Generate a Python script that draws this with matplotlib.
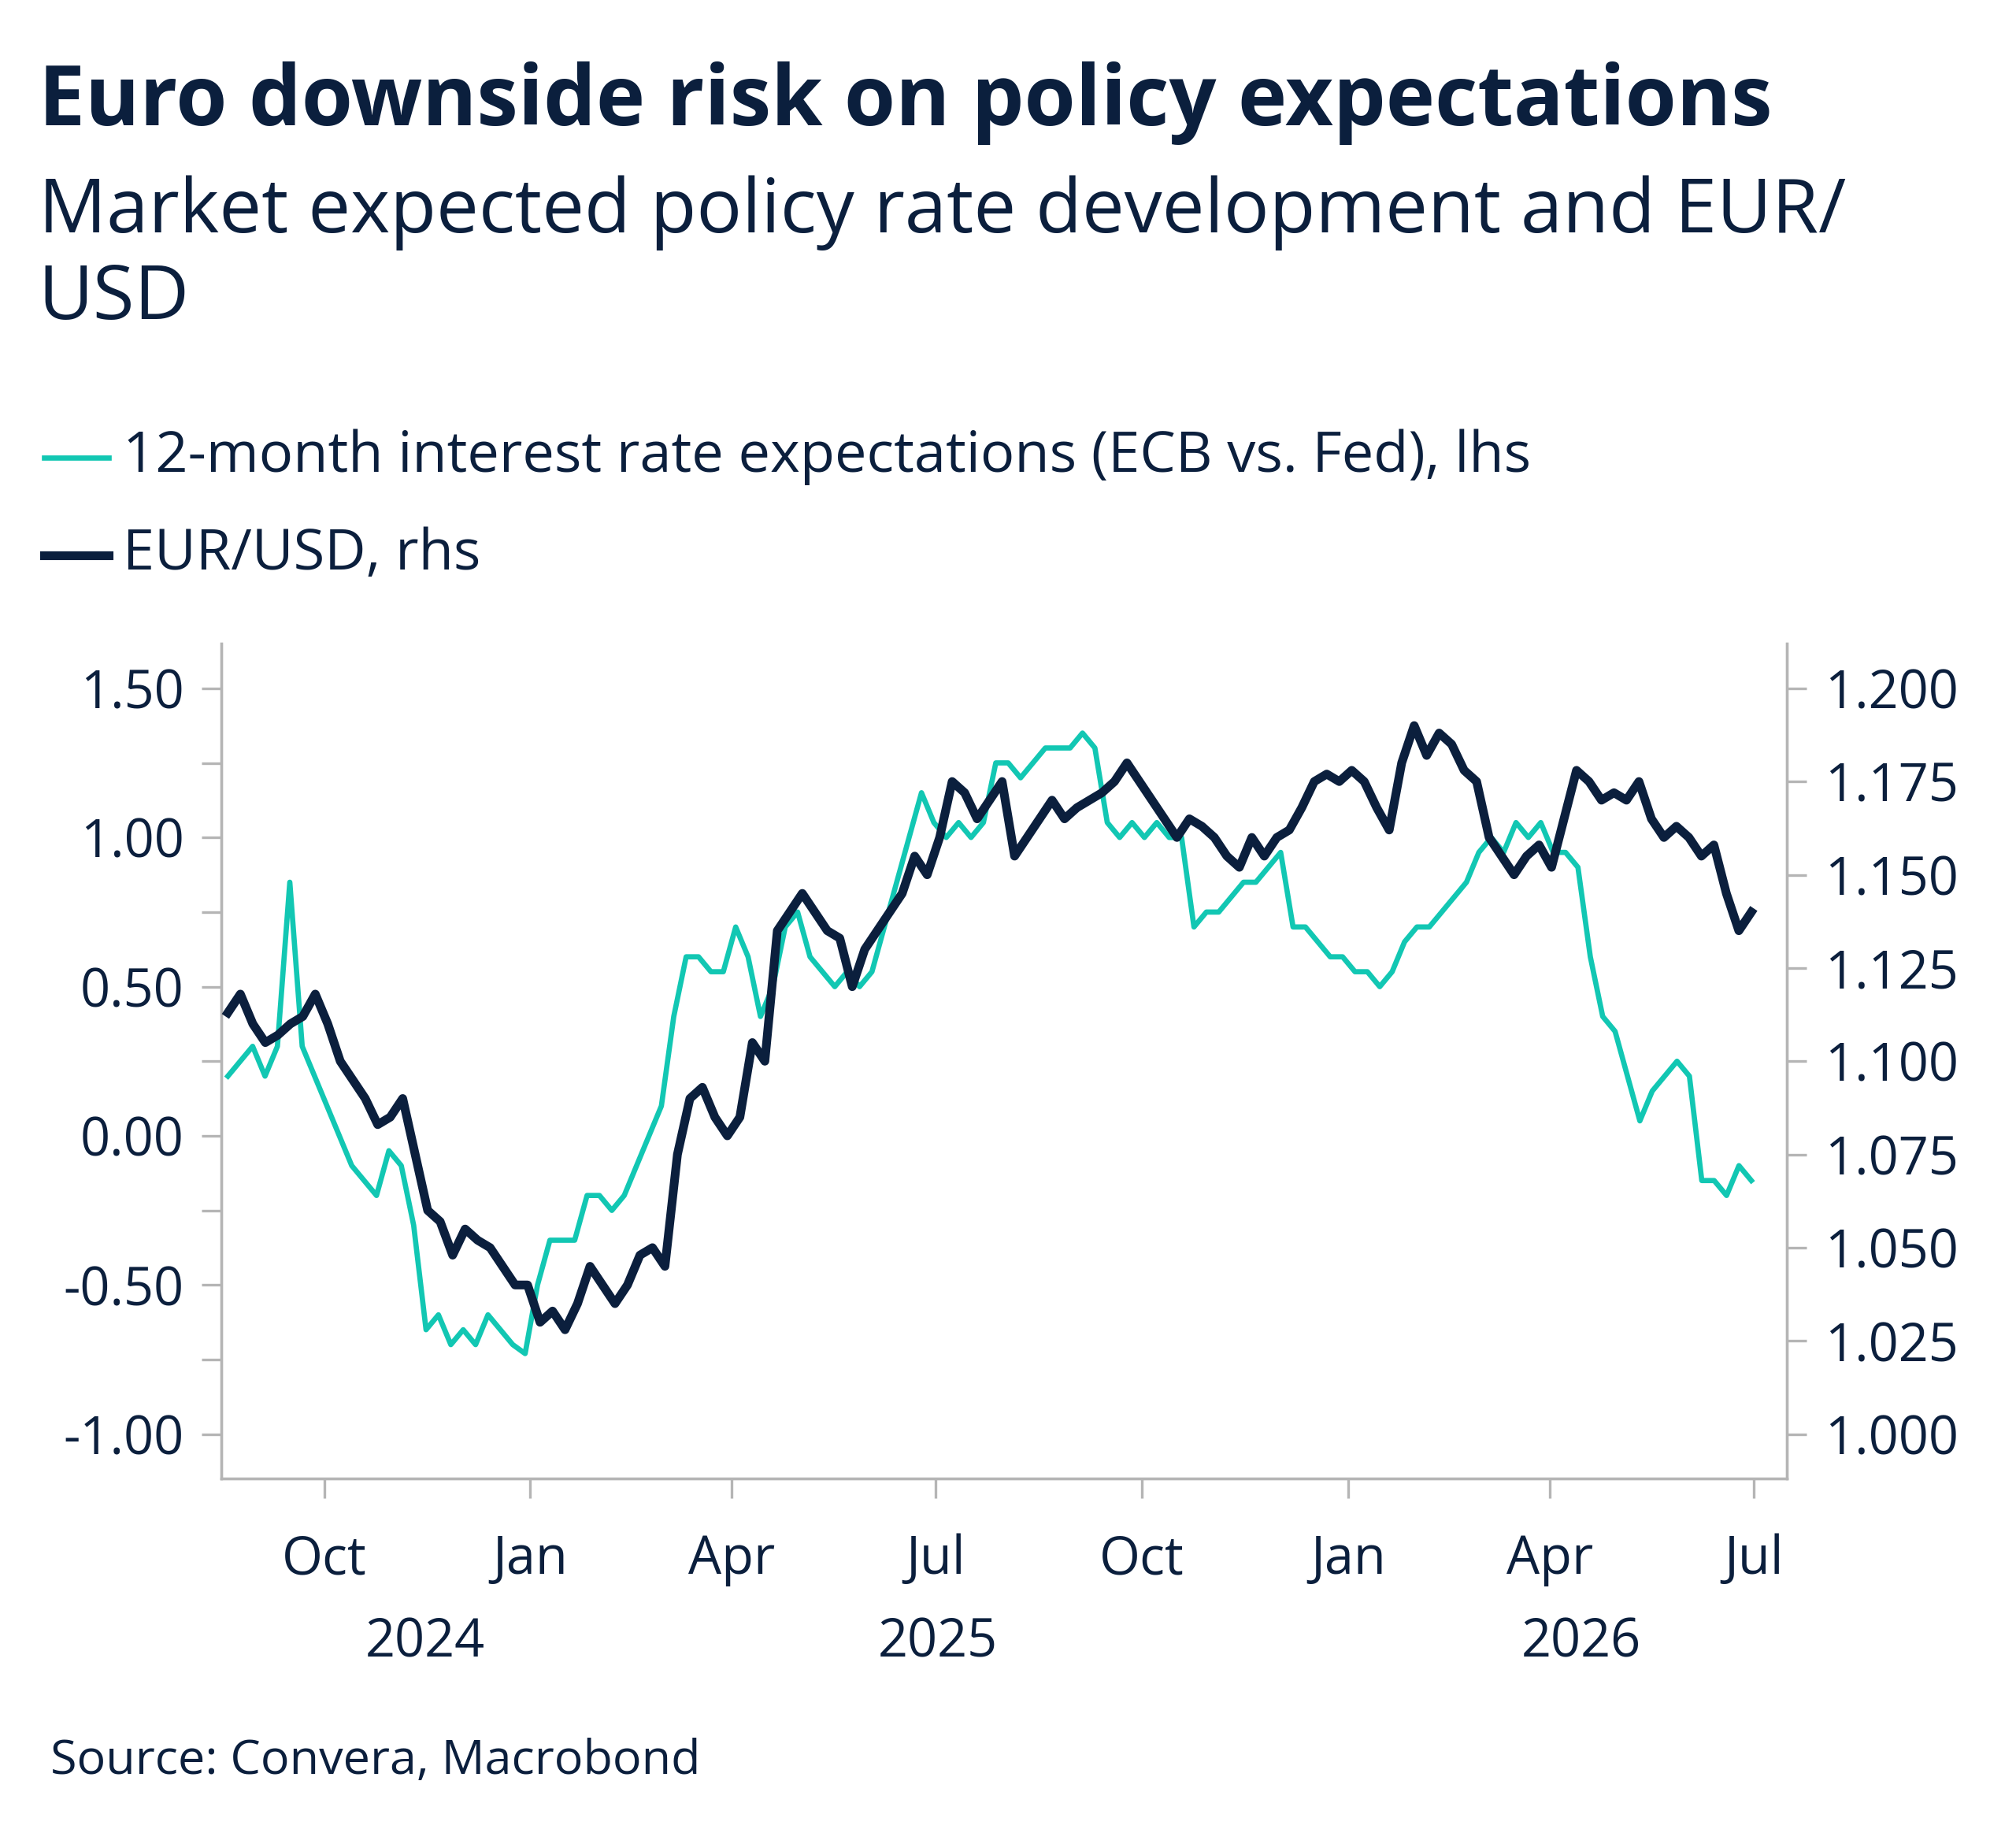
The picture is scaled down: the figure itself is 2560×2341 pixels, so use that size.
import numpy as np
import pandas as pd
import matplotlib
matplotlib.use("Agg")
import matplotlib.pyplot as plt
import matplotlib.dates as mdates
from matplotlib.lines import Line2D

plt.rcParams['font.family'] = ['Open Sans', 'DejaVu Sans']

NAVY = '#0b1f3d'
TEAL = '#12c7b3'
GREY = '#b5b5b5'

start, end = '2024-08-19', '2026-06-30'

rate = [0.2, 0.25, 0.3, 0.2, 0.3, 0.85, 0.3, 0.2, 0.1, 0.0, -0.1, -0.15, -0.2, -0.05, -0.1, -0.3,
        -0.65, -0.6, -0.7, -0.65, -0.7, -0.6, -0.65, -0.7, -0.73, -0.5, -0.35, -0.35, -0.35, -0.2,
        -0.2, -0.25, -0.2, -0.1, 0.0, 0.1, 0.4, 0.6, 0.6, 0.55, 0.55, 0.7, 0.6, 0.4, 0.5, 0.7,
        0.75, 0.6, 0.55, 0.5, 0.55, 0.5, 0.55, 0.7, 0.85, 1.0, 1.15, 1.05, 1.0, 1.05, 1.0, 1.05,
        1.25, 1.25, 1.2, 1.25, 1.3, 1.3, 1.3, 1.35, 1.3, 1.05, 1.0, 1.05, 1.0, 1.05, 1.0, 1.0,
        0.7, 0.75, 0.75, 0.8, 0.85, 0.85, 0.9, 0.95, 0.7, 0.7, 0.65, 0.6, 0.6, 0.55, 0.55, 0.5,
        0.55, 0.65, 0.7, 0.7, 0.75, 0.8, 0.85, 0.95, 1.0, 0.95, 1.05, 1.0, 1.05, 0.95, 0.95, 0.9,
        0.6, 0.4, 0.35, 0.2, 0.05, 0.15, 0.2, 0.25, 0.2, -0.15, -0.15, -0.2, -0.1, -0.15]

eurusd = [1.113, 1.118, 1.11, 1.105, 1.107, 1.11, 1.112, 1.118, 1.11, 1.1, 1.095, 1.09, 1.083,
          1.085, 1.09, 1.075, 1.06, 1.057, 1.048, 1.055, 1.052, 1.05, 1.045, 1.04, 1.04, 1.03,
          1.033, 1.028, 1.035, 1.045, 1.04, 1.035, 1.04, 1.048, 1.05, 1.045, 1.075, 1.09, 1.093,
          1.085, 1.08, 1.085, 1.105, 1.1, 1.135, 1.14, 1.145, 1.14, 1.135, 1.133, 1.12, 1.13,
          1.135, 1.14, 1.145, 1.155, 1.15, 1.16, 1.175, 1.172, 1.165, 1.17, 1.175, 1.155, 1.16,
          1.165, 1.17, 1.165, 1.168, 1.17, 1.172, 1.175, 1.18, 1.175, 1.17, 1.165, 1.16, 1.165,
          1.163, 1.16, 1.155, 1.152, 1.16, 1.155, 1.16, 1.162, 1.168, 1.175, 1.177, 1.175, 1.178,
          1.175, 1.168, 1.162, 1.18, 1.19, 1.182, 1.188, 1.185, 1.178, 1.175, 1.16, 1.155, 1.15,
          1.155, 1.158, 1.152, 1.165, 1.178, 1.175, 1.17, 1.172, 1.17, 1.175, 1.165, 1.16, 1.163,
          1.16, 1.155, 1.158, 1.145, 1.135, 1.14]

d_rate = pd.date_range(start, end, periods=len(rate))
d_fx = pd.date_range(start, end, periods=len(eurusd))

fig = plt.figure(figsize=(12.8, 11.705), dpi=200)
ax = fig.add_axes([0.1097, 0.198, 0.7768, 0.453])
ax2 = ax.twinx()

ax.plot(d_rate, rate, color=TEAL, lw=2.4, zorder=2)
ax2.plot(d_fx, eurusd, color=NAVY, lw=4, zorder=3)

ax.set_ylim(-1.15, 1.65)
ax2.set_ylim(0.988, 1.212)
ax.set_xlim(pd.Timestamp('2024-08-16'), pd.Timestamp('2026-07-16'))

ax.set_yticks(np.arange(-1.0, 1.51, 0.5))
ax.set_yticks(np.arange(-1.0, 1.51, 0.25), minor=True)
ax.set_yticklabels([f"{v:.2f}" for v in np.arange(-1.0, 1.51, 0.5)])
ax2.set_yticks(np.arange(1.0, 1.2001, 0.025))
ax2.set_yticklabels([f"{v:.3f}" for v in np.arange(1.0, 1.2001, 0.025)])

xt = pd.to_datetime(['2024-10-01', '2025-01-01', '2025-04-01', '2025-07-01', '2025-10-01',
                     '2026-01-01', '2026-04-01', '2026-07-01'])
ax.set_xticks(xt)
ax.set_xticklabels([d.strftime('%b') for d in xt])

for a in (ax, ax2):
    for s in a.spines.values():
        s.set_color(GREY)
        s.set_linewidth(1.2)
    a.spines['top'].set_visible(False)
    a.tick_params(which='both', colors=GREY, labelcolor=NAVY, labelsize=24, width=1.2)
    a.tick_params(which='major', length=9)
ax.tick_params(which='minor', length=9)
ax.tick_params(axis='y', pad=8)
ax2.tick_params(axis='y', pad=8)
ax.tick_params(axis='x', pad=16)

for yr, mid in [('2024', '2024-11-15'), ('2025', '2025-07-02'), ('2026', '2026-04-15')]:
    ax.text(pd.Timestamp(mid), -0.165, yr, transform=ax.get_xaxis_transform(),
            ha='center', va='top', fontsize=24, color=NAVY)

fig.text(0.019, 0.944, 'Euro downside risk on policy expectations', fontsize=38,
         fontweight='bold', color=NAVY, va='center')
fig.text(0.019, 0.905, 'Market expected policy rate development and EUR/\nUSD', fontsize=34.5,
         color=NAVY, va='top', linespacing=1.2)

fig.add_artist(Line2D([0.022, 0.054], [0.752, 0.752], color=TEAL, lw=2.4))
fig.text(0.061, 0.752, '12-month interest rate expectations (ECB vs. Fed), lhs', fontsize=26,
         color=NAVY, va='center')
fig.add_artist(Line2D([0.022, 0.054], [0.699, 0.699], color=NAVY, lw=4))
fig.text(0.061, 0.699, 'EUR/USD, rhs', fontsize=26, color=NAVY, va='center')

fig.text(0.025, 0.045, 'Source: Convera, Macrobond', fontsize=22, color=NAVY, va='center')

fig.savefig('out.png', dpi=200, facecolor='white')
